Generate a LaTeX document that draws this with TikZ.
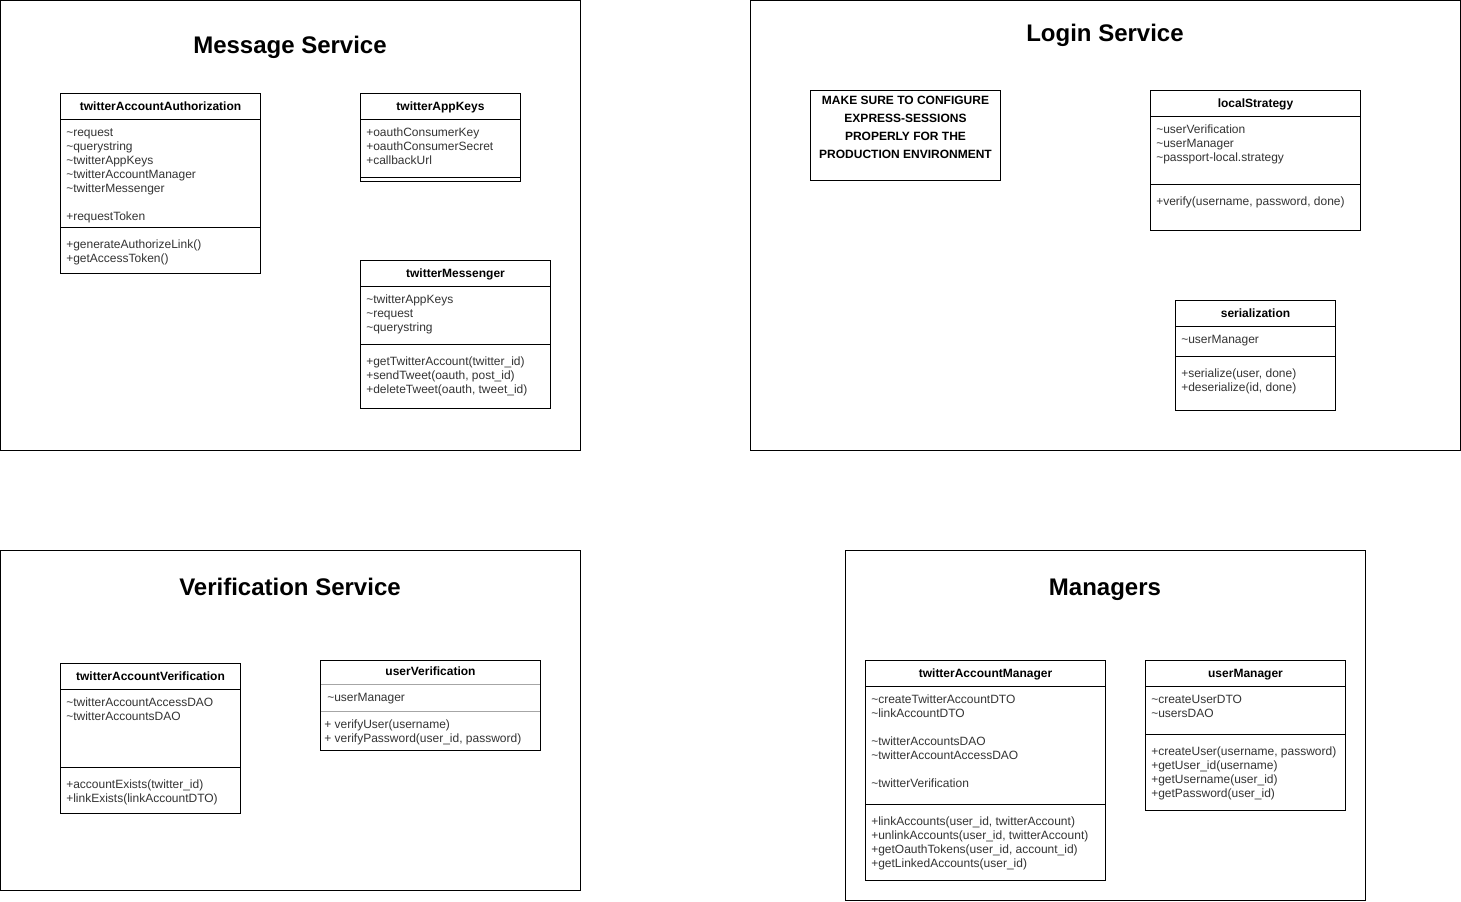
\documentclass[tikz,border=0pt]{standalone}
\usepackage{fontspec}
\setmainfont{Liberation Sans}
\usepackage{tikz}

\newcommand{\tld}{\textasciitilde}

\begin{document}
\begin{tikzpicture}[x=0.75pt, y=-0.75pt,
	frame/.style={draw, line width=0.8pt},
	box/.style={draw, line width=0.75pt},
	title/.style={anchor=base, inner sep=0pt, font=\fontsize{18}{21}\selectfont\bfseries},
	cname/.style={anchor=base, inner sep=0pt, font=\fontsize{9}{10.5}\selectfont\bfseries},
	rows/.style={anchor=base west, align=left, inner sep=0pt, text=black!80, font=\fontsize{9}{10.5}\selectfont}]
	\useasboundingbox (0,0) rectangle (1461,901);

	% Message Service (rows are placed by the baseline of their last line)
	\draw[frame] (0.5,0.5) rectangle (580.5,450.5);
	\node[title] (msgtitle) at (290,53) {Message Service};

	\draw[box] (60.5,93.5) rectangle (260.5,273.5);
	\draw[box] (60.5,119.5) -- (260.5,119.5);
	\draw[box] (60.5,227.5) -- (260.5,227.5);
	\node[cname] (authname) at (160.5,110) {twitterAccountAuthorization};
	\node[rows] (authattr) at (66,220) {\tld request\\\tld querystring\\\tld twitterAppKeys\\\tld twitterAccountManager\\\tld twitterMessenger\\[10.5pt]+requestToken};
	\node[rows] (authmeth) at (66,262) {+generateAuthorizeLink()\\+getAccessToken()};

	\draw[box] (360.5,93.5) rectangle (520.5,181.5);
	\draw[box] (360.5,119.5) -- (520.5,119.5);
	\draw[box] (360.5,177.5) -- (520.5,177.5);
	\node[cname] (keysname) at (440.5,110) {twitterAppKeys};
	\node[rows] (keysattr) at (366,164) {+oauthConsumerKey\\+oauthConsumerSecret\\+callbackUrl};

	\draw[box] (360.5,260.5) rectangle (550.5,408.5);
	\draw[box] (360.5,286.5) -- (550.5,286.5);
	\draw[box] (360.5,344.5) -- (550.5,344.5);
	\node[cname] (messname) at (455.5,277) {twitterMessenger};
	\node[rows] (messattr) at (366,331) {\tld twitterAppKeys\\\tld request\\\tld querystring};
	\node[rows] (messmeth) at (366,393) {+getTwitterAccount(twitter\_id)\\+sendTweet(oauth, post\_id)\\+deleteTweet(oauth, tweet\_id)};

	% Login Service
	\draw[frame] (750.5,0.5) rectangle (1460.5,450.5);
	\node[title] (logintitle) at (1105,41) {Login Service};

	\draw[box] (810.5,90.5) rectangle (1000.5,180.5);
	\node[anchor=base, align=center, inner sep=0pt, font=\fontsize{9}{13.5}\selectfont\bfseries] (note) at (905.5,158.5) {MAKE SURE TO CONFIGURE\\EXPRESS-SESSIONS\\PROPERLY FOR THE\\PRODUCTION ENVIRONMENT};

	\draw[box] (1150.5,90.5) rectangle (1360.5,230.5);
	\draw[box] (1150.5,116.5) -- (1360.5,116.5);
	\draw[box] (1150.5,184.5) -- (1360.5,184.5);
	\node[cname] (stratname) at (1255.5,107) {localStrategy};
	\node[rows] (stratattr) at (1156,161) {\tld userVerification\\\tld userManager\\\tld passport-local.strategy};
	\node[rows] (stratmeth) at (1156,205) {+verify(username, password, done)};

	\draw[box] (1175.5,300.5) rectangle (1335.5,410.5);
	\draw[box] (1175.5,326.5) -- (1335.5,326.5);
	\draw[box] (1175.5,356.5) -- (1335.5,356.5);
	\node[cname] (sername) at (1255.5,317) {serialization};
	\node[rows] (serattr) at (1181,343) {\tld userManager};
	\node[rows] (sermeth) at (1181,391) {+serialize(user, done)\\+deserialize(id, done)};

	% Verification Service
	\draw[frame] (0.5,550.5) rectangle (580.5,890.5);
	\node[title] (vertitle) at (290,595) {Verification Service};

	\draw[box] (60.5,663.5) rectangle (240.5,813.5);
	\draw[box] (60.5,689.5) -- (240.5,689.5);
	\draw[box] (60.5,767.5) -- (240.5,767.5);
	\node[cname] (tvername) at (150.5,680) {twitterAccountVerification};
	\node[rows] (tverattr) at (66,720) {\tld twitterAccountAccessDAO\\\tld twitterAccountsDAO};
	\node[rows] (tvermeth) at (66,802) {+accountExists(twitter\_id)\\+linkExists(linkAccountDTO)};

	\draw[box] (320.5,660.5) rectangle (540.5,750.5);
	\draw[box, black!35] (321,684.5) -- (540,684.5);
	\draw[box, black!35] (321,711.5) -- (540,711.5);
	\node[cname] (uvername) at (430.5,675) {userVerification};
	\node[rows] (uverattr) at (327,701) {\tld userManager};
	\node[rows] (uvermeth) at (324,742) {+ verifyUser(username)\\+ verifyPassword(user\_id, password)};

	% Managers
	\draw[frame] (845.5,550.5) rectangle (1365.5,900.5);
	\node[title] (mgrtitle) at (1105,595) {Managers};

	\draw[box] (865.5,660.5) rectangle (1105.5,880.5);
	\draw[box] (865.5,686.5) -- (1105.5,686.5);
	\draw[box] (865.5,804.5) -- (1105.5,804.5);
	\node[cname] (tmgrname) at (985.5,677) {twitterAccountManager};
	\node[rows] (tmgrattr) at (871,787) {\tld createTwitterAccountDTO\\\tld linkAccountDTO\\[10.5pt]\tld twitterAccountsDAO\\\tld twitterAccountAccessDAO\\[10.5pt]\tld twitterVerification};
	\node[rows] (tmgrmeth) at (871,867) {+linkAccounts(user\_id, twitterAccount)\\+unlinkAccounts(user\_id, twitterAccount)\\+getOauthTokens(user\_id, account\_id)\\+getLinkedAccounts(user\_id)};

	\draw[box] (1145.5,660.5) rectangle (1345.5,810.5);
	\draw[box] (1145.5,686.5) -- (1345.5,686.5);
	\draw[box] (1145.5,734.5) -- (1345.5,734.5);
	\node[cname] (umgrname) at (1245.5,677) {userManager};
	\node[rows] (umgrattr) at (1151,717) {\tld createUserDTO\\\tld usersDAO};
	\node[rows] (umgrmeth) at (1151,797) {+createUser(username, password)\\+getUser\_id(username)\\+getUsername(user\_id)\\+getPassword(user\_id)};
\end{tikzpicture}
\end{document}
